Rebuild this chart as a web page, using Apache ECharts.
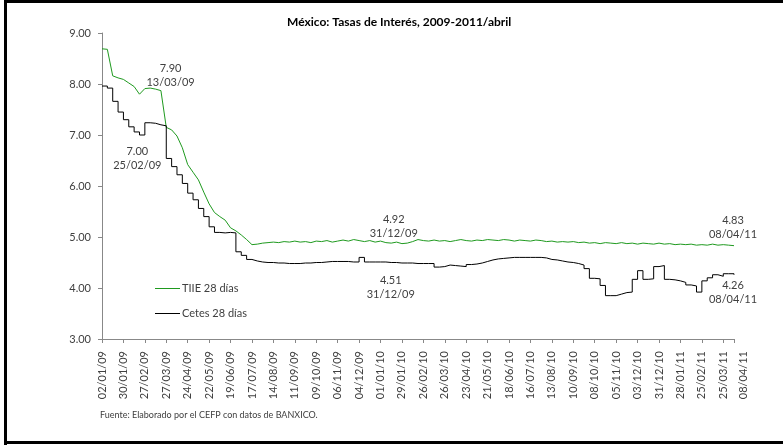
<!DOCTYPE html>
<html><head><meta charset="utf-8">
<script src="https://cdn.jsdelivr.net/npm/echarts@6/dist/echarts.min.js"></script>
<style>html,body{margin:0;padding:0;background:#fff}#c{width:783px;height:445px}</style>
</head><body><div id="c"></div>
<script>
// Weekly observations (Fridays) from 02/01/09 to 08/04/11
const tickLabels = ['02/01/09','30/01/09','27/02/09','27/03/09','24/04/09','22/05/09','19/06/09','17/07/09',
  '14/08/09','11/09/09','09/10/09','06/11/09','04/12/09','01/01/10','29/01/10','26/02/10','26/03/10',
  '23/04/10','21/05/10','18/06/10','16/07/10','13/08/10','10/09/10','08/10/10','05/11/10','03/12/10',
  '31/12/10','28/01/11','25/02/11','25/03/11','08/04/11'];

const tiie = [8.69,8.68,8.16,8.12,8.09,8.02,7.95,7.80,7.91,7.92,
  7.90,7.87,7.15,7.10,6.98,6.75,6.42,6.27,6.12,5.88,
  5.65,5.48,5.40,5.33,5.18,5.12,5.04,4.95,4.85,4.86,
  4.88,4.89,4.90,4.89,4.91,4.90,4.92,4.90,4.91,4.89,
  4.92,4.91,4.93,4.90,4.92,4.94,4.92,4.95,4.93,4.91,
  4.93,4.90,4.92,4.89,4.88,4.90,4.87,4.88,4.91,4.95,
  4.93,4.92,4.94,4.92,4.93,4.91,4.93,4.95,4.93,4.92,
  4.94,4.93,4.95,4.94,4.93,4.95,4.94,4.92,4.94,4.93,
  4.92,4.94,4.93,4.91,4.92,4.90,4.91,4.90,4.91,4.89,
  4.90,4.88,4.89,4.87,4.89,4.88,4.87,4.89,4.87,4.88,
  4.86,4.88,4.87,4.86,4.88,4.86,4.87,4.85,4.86,4.85,
  4.86,4.84,4.85,4.84,4.86,4.84,4.85,4.84,4.83];

const cetes = [7.96,7.92,7.66,7.45,7.30,7.16,7.06,7.00,7.24,7.23,
  7.20,7.18,6.54,6.38,6.22,6.05,5.86,5.73,5.56,5.40,
  5.20,5.09,5.08,5.09,5.08,4.71,4.64,4.56,4.53,4.51,
  4.50,4.50,4.49,4.49,4.48,4.48,4.48,4.49,4.49,4.50,
  4.50,4.51,4.52,4.52,4.52,4.52,4.51,4.51,4.60,4.51,
  4.51,4.51,4.51,4.50,4.50,4.49,4.49,4.49,4.48,4.48,
  4.48,4.48,4.41,4.42,4.45,4.44,4.43,4.42,4.46,4.47,
  4.49,4.52,4.55,4.57,4.58,4.59,4.60,4.60,4.60,4.60,
  4.60,4.60,4.59,4.56,4.55,4.53,4.51,4.50,4.48,4.45,
  4.38,4.19,4.18,4.05,3.85,3.85,3.88,3.91,3.92,4.17,
  4.34,4.17,4.18,4.42,4.44,4.17,4.16,4.14,4.11,4.06,
  4.04,3.92,4.14,4.20,4.26,4.23,4.28,4.28,4.26];

const notes = [
  {series: 0, date: '13/03/09', value: 7.90, offset: [15, -14]},
  {series: 1, date: '25/02/09', value: 7.00, offset: [-6, 23]},
  {series: 0, date: '31/12/09', value: 4.92, offset: [14, -15]},
  {series: 1, date: '31/12/09', value: 4.51, offset: [11, 25]},
  {series: 0, date: '08/04/11', value: 4.83, offset: [-1, -18]},
  {series: 1, date: '08/04/11', value: 4.26, offset: [-1, 18]}
];
const seriesNames = ['TIIE 28 días', 'Cetes 28 días'];
const colors = ['#1f9a1f', '#000000'];

function weekOf(d) {
  const p = d.split('/').map(Number);
  return (Date.UTC(2000 + p[2], p[1] - 1, p[0]) - Date.UTC(2009, 0, 2)) / (7 * 86400000);
}
const lastIdx = tiie.length - 1;
const FONT = 'Lato';
const txt = '#404040';

function marks(si) {
  return notes.filter(n => n.series === si).map(n => ({
    coord: [weekOf(n.date), n.value],
    symbol: 'circle', symbolSize: 0,
    label: {show: true, position: 'inside', offset: n.offset,
      formatter: n.value.toFixed(2) + '\n' + n.date,
      color: txt, fontSize: 11, fontFamily: FONT, lineHeight: 14, align: 'center'}
  }));
}

const chart = echarts.init(document.getElementById('c'), null, {renderer: 'canvas'});
chart.setOption({
  animation: false,
  backgroundColor: '#fff',
  title: {text: 'México: Tasas de Interés, 2009-2011/abril', left: 282, top: 11,
    textStyle: {fontFamily: FONT, fontSize: 12, fontWeight: 'bold', color: '#000'}},
  grid: {left: 102, right: 49, top: 33, height: 306},
  legend: {orient: 'vertical', left: 150, top: 278, itemWidth: 25, itemHeight: 1, itemGap: 14,
    icon: 'rect',
    data: seriesNames,
    textStyle: {fontFamily: FONT, fontSize: 11, color: txt, padding: [0, 0, 0, -3]}},
  xAxis: {type: 'value', min: 0, max: lastIdx, interval: 4,
    splitLine: {show: false},
    axisLine: {show: true, lineStyle: {color: '#888'}},
    axisTick: {show: true, length: 4, lineStyle: {color: '#888'}},
    axisLabel: {rotate: 90, margin: 12, fontFamily: FONT, fontSize: 11, color: txt, showMaxLabel: true, showMinLabel: true,
      formatter: v => v === lastIdx ? '{last|' + tickLabels[tickLabels.length - 1] + '}' : (tickLabels[Math.round(v / 4)] || ''),
      rich: {last: {fontFamily: FONT, fontSize: 11, color: txt, padding: [18, 0, 0, 0]}}}
  },
  yAxis: {type: 'value', min: 3, max: 9, interval: 1,
    splitLine: {show: false},
    axisLine: {show: true, lineStyle: {color: '#888'}},
    axisTick: {show: true, length: 4, lineStyle: {color: '#888'}},
    axisLabel: {margin: 11, fontFamily: FONT, fontSize: 11, color: txt, formatter: v => v.toFixed(2)}
  },
  series: [
    {name: seriesNames[0], type: 'line', symbol: 'none', data: tiie.map((v, i) => [i, v]),
      lineStyle: {color: colors[0], width: 1}, itemStyle: {color: colors[0]},
      markPoint: {data: marks(0)}},
    {name: seriesNames[1], type: 'line', symbol: 'none', step: 'end', data: cetes.map((v, i) => [i, v]),
      lineStyle: {color: colors[1], width: 1}, itemStyle: {color: colors[1]},
      markPoint: {data: marks(1)}}
  ],
  graphic: [
    {type: 'rect', shape: {x: 4, y: 0, width: 3, height: 445}, style: {fill: '#000'}},
    {type: 'rect', shape: {x: 4, y: 0, width: 779, height: 3}, style: {fill: '#000'}},
    {type: 'rect', shape: {x: 4, y: 441, width: 779, height: 3}, style: {fill: '#000'}},
    {type: 'text', left: 100, top: 411, style: {text: 'Fuente: Elaborado por el CEFP con datos de BANXICO.',
      fontFamily: FONT, fontSize: 9, fill: txt}}
  ]
});
</script>
</body></html>
